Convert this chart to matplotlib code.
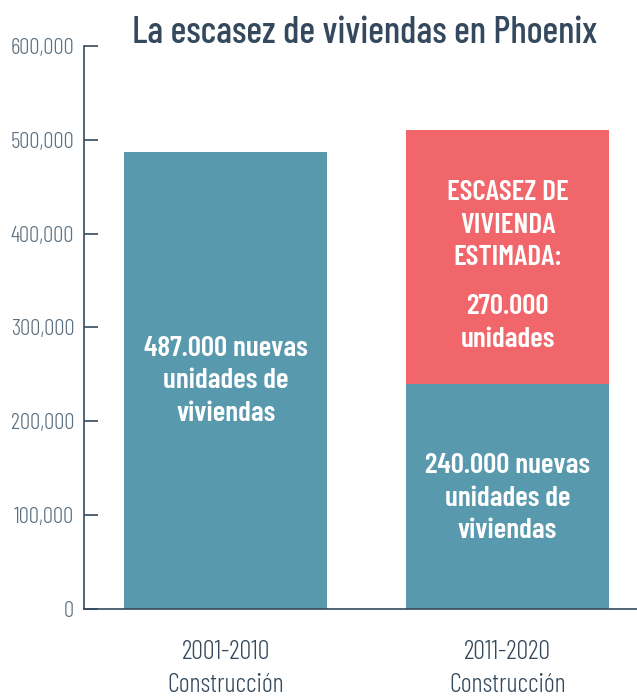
import matplotlib
matplotlib.use("Agg")
import matplotlib.pyplot as plt
from matplotlib.ticker import FuncFormatter

plt.rcParams['font.family'] = ['Barlow Condensed', 'DejaVu Sans']

# datos
periodos = ["2001-2010\nConstrucción", "2011-2020\nConstrucción"]
construidas = [487000, 240000]
escasez = [0, 270000]
yticks = [0, 100000, 200000, 300000, 400000, 500000, 600000]

azul = "#5899ad"
rojo = "#f0666a"
oscuro = "#34495e"

fig = plt.figure(figsize=(6.37, 6.96), dpi=100)
ax = fig.add_axes([0.132, 0.125, 0.868, 0.809])

xs = [0, 1]
ax.bar(xs, construidas, width=0.72, color=azul, zorder=2)
ax.bar(xs, escasez, width=0.72, bottom=construidas, color=rojo, zorder=2)

ax.set_xlim(-0.502, 1.459)
ax.set_ylim(0, 600000)
ax.set_yticks(yticks)
ax.yaxis.set_major_formatter(FuncFormatter(lambda v, p: f"{int(v):,}"))
ax.set_xticks(xs)
ax.set_xticklabels(periodos, fontsize=19, color=oscuro, linespacing=1.5,
                   fontweight=300)
ax.tick_params(axis='x', length=0, pad=22)
ax.tick_params(axis='y', direction='in', length=10, width=1.2, color=oscuro,
               labelsize=16.5, labelcolor="#5a6f80", pad=7)
for lbl in ax.get_yticklabels():
    lbl.set_fontweight(300)

for s in ['top', 'right']:
    ax.spines[s].set_visible(False)
for s in ['left', 'bottom']:
    ax.spines[s].set_color(oscuro)
    ax.spines[s].set_linewidth(1.2)

txt = dict(ha='center', va='center', color='white', fontsize=21,
           fontweight=600, linespacing=1.38)
ax.text(0, 243000, "487.000 nuevas\nunidades de\nviviendas", **txt)
ax.text(1, 118000, "240.000 nuevas\nunidades de\nviviendas", **txt)
ax.text(1, 409000, "ESCASEZ DE\nVIVIENDA\nESTIMADA:", **txt)
ax.text(1, 305000, "270.000\nunidades", **txt)

fig.text(0.572, 0.953, "La escasez de viviendas en Phoenix", ha='center',
         va='center', fontsize=27, fontweight=500, color=oscuro)

fig.savefig("out.png", dpi=100)
